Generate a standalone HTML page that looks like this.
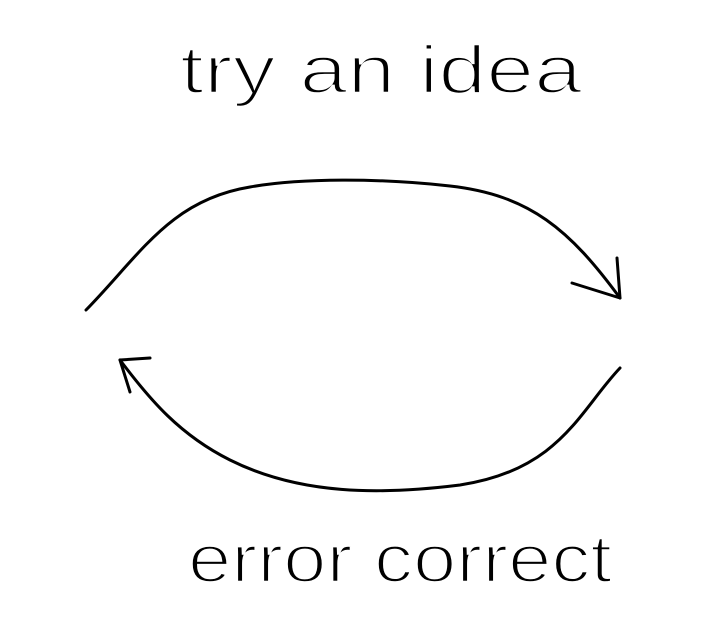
<!DOCTYPE html>
<html><head><style>html,body{margin:0;padding:0;background:#fff;}svg{display:block}</style></head>
<body>
<svg width="720" height="628" viewBox="0 0 720 628" xmlns="http://www.w3.org/2000/svg">
<rect width="720" height="628" fill="#fff"/>
<g font-family="'Liberation Sans', sans-serif" font-size="68" fill="#000" stroke="#fff" stroke-width="2.5" paint-order="normal">
<text x="180" y="93" textLength="402" lengthAdjust="spacingAndGlyphs">try an idea</text>
<text x="188" y="582" textLength="424" lengthAdjust="spacingAndGlyphs">error correct</text>
</g>
<g fill="none" stroke="#000" stroke-width="3" stroke-linecap="round" stroke-linejoin="round">
<path d="M86,310 C140,255 170,200 250,187 C300,178 380,178 450,186 C530,195 570,230 620,298"/>
<path d="M572,283 L620,298 L617,258"/>
<path d="M620,368 C580,410 560,470 460,485 C380,495 300,495 230,460 C180,435 150,400 120,360"/>
<path d="M150,358 L120,360 L130,392"/>
</g>
</svg>
</body></html>
